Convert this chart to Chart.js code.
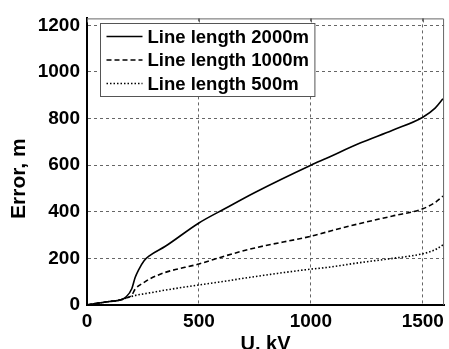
<!DOCTYPE html>
<html><head><meta charset="utf-8">
<script src="https://cdn.jsdelivr.net/npm/chart.js@4/dist/chart.umd.min.js"></script>
<style>html,body{margin:0;padding:0;background:#fff;}</style>
</head><body>
<canvas id="c" width="449" height="349"></canvas>
<script>
const voltageKV = [0,50,100,150,175,200,215,230,255,280,350,500,615,750,1000,1070,1220,1365,1500,1555,1590];
const error2000 = [0,8,15,22,35,70,118,150,190,212,252,352,413,483,600,630,695,750,806,845,885];
const error1000 = [0,8,15,22,30,42,68,82,97,112,140,176,210,245,295,313,350,382,413,440,467];
const error500  = [0,8,15,22,30,37,41,44,48,52,64,86,102,122,154,161,182,200,220,237,258];
const seriesLabels = ['Line length 2000m','Line length 1000m','Line length 500m'];
const xTicks = [0,500,1000,1500];
const yTicks = [0,200,400,600,800,1000,1200];
const xTitle = 'U, kV';
const yTitle = 'Error, m';

const FONT = "'Liberation Sans', Arial, sans-serif";
const toPts = arr => voltageKV.map((v, i) => ({x: v, y: arr[i]}));

const framePlugin = {
  id: 'frame',
  afterDraw(chart) {
    const {ctx, chartArea: a, scales} = chart;
    ctx.save();
    ctx.setLineDash([]);
    ctx.strokeStyle = '#666';
    ctx.lineWidth = 1;
    ctx.beginPath();
    ctx.moveTo(a.left, a.top + 0.5);
    ctx.lineTo(a.right - 0.5, a.top + 0.5);
    ctx.lineTo(a.right - 0.5, a.bottom);
    xTicks.forEach(v => {
      const x = Math.round(scales.x.getPixelForValue(v)) + 0.5;
      ctx.moveTo(x, a.top); ctx.lineTo(x, a.top + 4);
    });
    ctx.stroke();

    // legend
    const fs = 18.5;
    ctx.font = 'bold ' + fs + 'px ' + FONT;
    const ds = chart.data.datasets;
    let maxW = 0;
    ds.forEach(d => { maxW = Math.max(maxW, ctx.measureText(d.label).width); });
    const bx = Math.round(a.left + 13) + 0.5, by = Math.round(a.top + 5) + 0.5;
    const textX = bx + 47;
    const bw = textX - bx + maxW + 6, bh = 73;
    ctx.fillStyle = '#fff';
    ctx.fillRect(bx, by, bw, bh);
    ctx.strokeStyle = '#555';
    ctx.lineWidth = 1;
    ctx.strokeRect(bx, by, bw, bh);
    ds.forEach((d, i) => {
      const cy = by + 13 + i * 23.5;
      ctx.beginPath();
      ctx.setLineDash(d.borderDash || []);
      ctx.lineWidth = d.borderWidth;
      ctx.strokeStyle = d.borderColor;
      ctx.moveTo(bx + 6, cy); ctx.lineTo(bx + 42, cy);
      ctx.stroke();
      ctx.setLineDash([]);
      ctx.fillStyle = '#000';
      ctx.textBaseline = 'middle';
      ctx.textAlign = 'left';
      ctx.fillText(d.label, textX, cy + 1);
    });

    // y title
    ctx.save();
    ctx.translate(19, (a.top + a.bottom) / 2 + 17);
    ctx.rotate(-Math.PI / 2);
    ctx.font = 'bold 21px ' + FONT;
    ctx.fillStyle = '#000';
    ctx.textAlign = 'center';
    ctx.textBaseline = 'middle';
    ctx.fillText(yTitle, 0, 0);
    ctx.restore();
    ctx.restore();
  }
};

new Chart(document.getElementById('c'), {
  type: 'line',
  data: {
    datasets: [
      {label: seriesLabels[0], data: toPts(error2000), borderColor: '#000', borderWidth: 1.6, borderDash: []},
      {label: seriesLabels[1], data: toPts(error1000), borderColor: '#000', borderWidth: 1.6, borderDash: [5, 3]},
      {label: seriesLabels[2], data: toPts(error500), borderColor: '#000', borderWidth: 1.6, borderDash: [1.5, 2]}
    ]
  },
  options: {
    responsive: false,
    animation: false,
    devicePixelRatio: 1,
    layout: {padding: {left: 0, right: 1, top: 12, bottom: 0}},
    elements: {point: {radius: 0}, line: {cubicInterpolationMode: 'monotone', fill: false}},
    plugins: {legend: {display: false}, tooltip: {enabled: false}},
    scales: {
      x: {
        type: 'linear', min: 0, max: 1595,
        afterBuildTicks: s => { s.ticks = xTicks.map(v => ({value: v})); },
        afterFit: s => { s.height = 44; },
        grid: {color: '#666', lineWidth: 1, drawTicks: false},
        border: {display: true, color: '#000', width: 2, dash: [3, 3]},
        ticks: {padding: 5, color: '#000', font: {family: FONT, size: 19, weight: 'bold'}, maxRotation: 0,
                callback: v => String(v)},
        title: {display: true, text: xTitle, color: '#000', font: {family: FONT, size: 20, weight: 'bold', lineHeight: 0.5}, padding: 0}
      },
      y: {
        type: 'linear', min: 0, max: 1230,
        afterBuildTicks: s => { s.ticks = yTicks.map(v => ({value: v})); },
        afterFit: s => { s.width = 87; },
        grid: {color: '#666', lineWidth: 1, drawTicks: false},
        border: {display: true, color: '#000', width: 2, dash: [3, 3]},
        ticks: {padding: 7, color: '#000', font: {family: FONT, size: 19, weight: 'bold'},
                callback: v => String(v)}
      }
    }
  },
  plugins: [framePlugin]
});
</script>
</body></html>
